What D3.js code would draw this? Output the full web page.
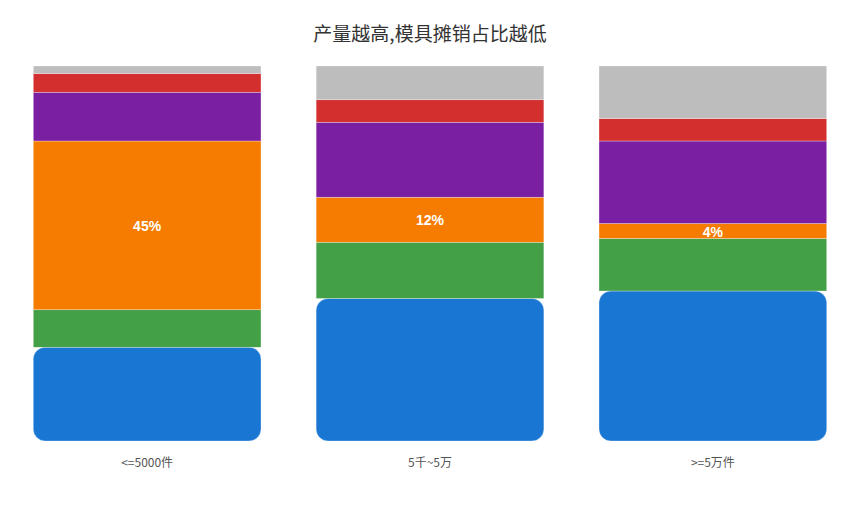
<!DOCTYPE html>
<html>
<head>
<meta charset="utf-8">
<script src="https://cdn.jsdelivr.net/npm/d3@7"></script>
<style>
	body { margin: 0; background: #fff; }
	svg { font-family: "Noto Sans CJK SC", "Noto Sans", sans-serif; }
</style>
</head>
<body>
<svg id="chart" width="860" height="530"></svg>
<script>
const categories = ["<=5000件", "5千~5万", ">=5万件"];
const seriesNames = ["s1", "s2", "模具", "s4", "s5", "s6"];
const s1 = [25, 38, 40];
const s2 = [10, 15, 14];
const mould = [45, 12, 4];
const s4 = [13, 20, 22];
const s5 = [5, 6, 6];
const s6 = [2, 9, 14];
const colors = ["#1976d2", "#43a047", "#f57c00", "#7b1fa2", "#d32f2f", "#bdbdbd"];

const rows = categories.map((c, i) => ({
	cat: c,
	s1: s1[i],
	s2: s2[i],
	模具: mould[i],
	s4: s4[i],
	s5: s5[i],
	s6: s6[i],
}));

const svg = d3.select("#chart");
const width = +svg.attr("width");

svg.append("text")
	.attr("x", width / 2)
	.attr("y", 41)
	.attr("text-anchor", "middle")
	.style("font-size", "19px")
	.style("fill", "#333")
	.text("产量越高,模具摊销占比越低");

const x = d3.scaleBand().domain(categories).range([5, 855]).paddingInner(0.195).paddingOuter(0.1);
const y = d3.scaleLinear().domain([0, 100]).range([441, 66]);
const color = d3.scaleOrdinal().domain(seriesNames).range(colors);

const stack = d3.stack().keys(seriesNames);
const layers = stack(rows);

const g = svg.append("g");
layers.forEach((layer) => {
	const first = layer.key === seriesNames[0];
	g.append("g")
		.selectAll("rect")
		.data(layer)
		.join("rect")
		.attr("x", (d) => x(d.data.cat))
		.attr("width", x.bandwidth())
		.attr("y", (d) => y(d[1]))
		.attr("height", (d) => y(d[0]) - y(d[1]))
		.attr("rx", first ? 12 : 0)
		.attr("fill", color(layer.key))
		.attr("stroke", "#fff")
		.attr("stroke-opacity", 0.5)
		.attr("stroke-width", 0.6);
});

// only mould share is labelled
const mouldLayer = layers.find((l) => l.key === "模具");
g.append("g")
	.selectAll("text")
	.data(mouldLayer)
	.join("text")
	.attr("x", (d) => x(d.data.cat) + x.bandwidth() / 2)
	.attr("y", (d) => (y(d[0]) + y(d[1])) / 2)
	.attr("dy", "0.4em")
	.attr("text-anchor", "middle")
	.style("font-family", "Liberation Sans, Arial, sans-serif")
	.style("font-size", "14px")
	.style("font-weight", "bold")
	.style("fill", "#fff")
	.text((d) => `${d.data.模具}%`);

const xAxis = svg.append("g")
	.attr("transform", "translate(0,441)")
	.call(d3.axisBottom(x).tickSize(0).tickPadding(17));
xAxis.select(".domain").remove();
xAxis.selectAll("text")
	.style("font-family", "\"Noto Sans CJK SC\", sans-serif")
	.style("font-size", "12px")
	.style("fill", "#555");
</script>
</body>
</html>
